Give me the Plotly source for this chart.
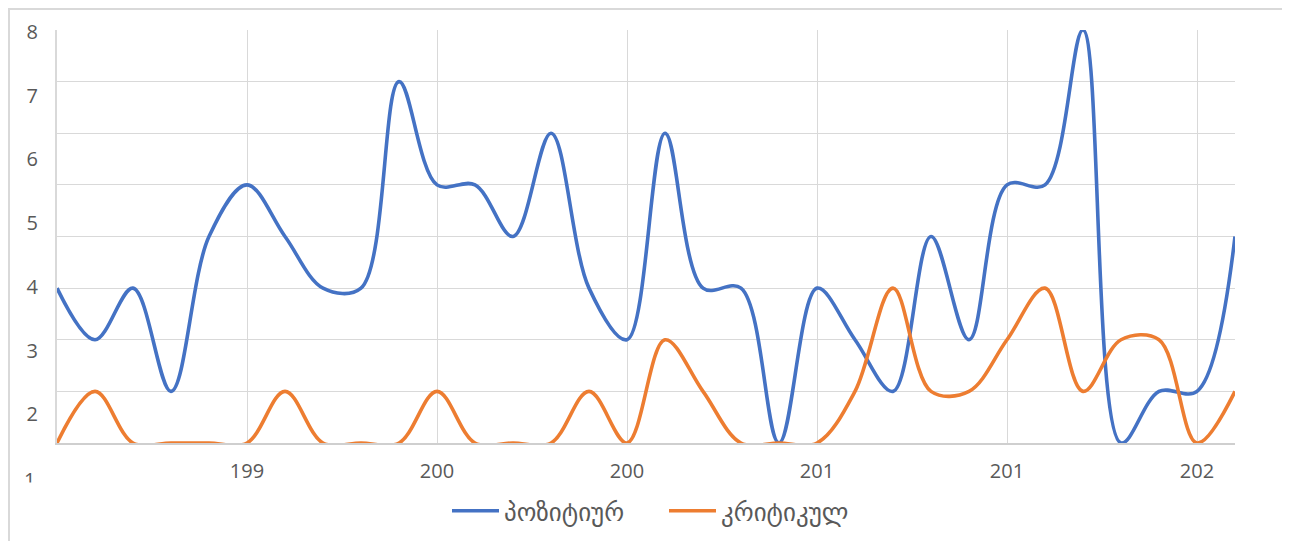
import plotly.graph_objects as go

# ---- data ----
years = list(range(1993, 2025))
positive = [3, 2, 3, 1, 4, 5, 4, 3, 3, 7, 5, 5, 4, 6, 3, 2,
            6, 3, 3, 0, 3, 2, 1, 4, 2, 5, 5, 8, 0, 1, 1, 4]
critical = [0, 1, 0, 0, 0, 0, 1, 0, 0, 0, 1, 0, 0, 0, 1, 0,
            2, 1, 0, 0, 0, 1, 3, 1, 1, 2, 3, 1, 2, 2, 0, 1]
series_names = ["პოზიტიურ", "კრიტიკულ"]
x_tick_years = [1998, 2003, 2008, 2013, 2018, 2023]
x_tick_labels = ["199", "200", "200", "201", "201", "202"]
y_tick_vals = [2, 3, 4, 5, 6, 7, 8]
y_tick_labels = ["2", "3", "4", "5", "6", "7", "8"]

BLUE = "#4472C4"
ORANGE = "#ED7D31"
GRID = "#D9D9D9"
TXT = "#595959"
FONT = "Open Sans, DejaVu Sans, sans-serif"

fig = go.Figure()
fig.add_trace(go.Scatter(x=years, y=positive, name=series_names[0], mode="lines",
                         line=dict(color=BLUE, width=3.6, shape="spline", smoothing=1)))
fig.add_trace(go.Scatter(x=years, y=critical, name=series_names[1], mode="lines",
                         line=dict(color=ORANGE, width=3.6, shape="spline", smoothing=1)))
# empty trace so the label axis is created
fig.add_trace(go.Scatter(x=[], y=[], yaxis="y2", showlegend=False, hoverinfo="skip"))

# page has an 8px body margin: figure origin sits at (8, 8) on the page
OFF = 8
PAGE_W, PAGE_H = 1290, 541
W, H = PAGE_W - OFF, PAGE_H - OFF
PL, PR, PT, PB = 57, 1235, 30, 443   # plot area in page pixels
L, T = PL - OFF, PT - OFF
R = W - (PR - OFF)
B = H - (PB - OFF)
pw = PR - PL
ph = PB - PT

def px_x(p):
    return (p - PL) / pw

def px_y(p):
    return (PB - p) / ph

fig.update_layout(
    width=W, height=H,
    margin=dict(l=L, r=R, t=T, b=B, autoexpand=False),
    paper_bgcolor="white", plot_bgcolor="white",
    font=dict(family=FONT, color=TXT, size=20),
    xaxis=dict(range=[years[0], years[-1]], tickvals=x_tick_years, ticktext=x_tick_labels,
               showgrid=True, gridcolor=GRID, gridwidth=1.3, zeroline=False,
               showline=True, linecolor="#CFCFCF", linewidth=1.6, ticks="",
               tickfont=dict(size=20, color=TXT), ticklabelstandoff=9, automargin=False),
    yaxis=dict(range=[0, 8], dtick=1, tick0=0, showgrid=True, gridcolor=GRID, gridwidth=1.3,
               showticklabels=False, zeroline=False, showline=True, linecolor=GRID,
               linewidth=1.6, ticks="", automargin=False),
    yaxis2=dict(overlaying="y", side="left", range=[1.549, 8.031], tickvals=y_tick_vals,
                ticktext=y_tick_labels, showgrid=False, zeroline=False, showline=False,
                ticks="", tickfont=dict(size=20, color=TXT), ticklabelstandoff=18,
                automargin=False),
    legend=dict(orientation="h", x=0.5 + 18 / pw, xanchor="center", y=px_y(511),
                yanchor="middle", font=dict(size=25, color=TXT), itemwidth=47,
                entrywidth=155, bgcolor="rgba(0,0,0,0)"),
    shapes=[dict(type="rect", xref="paper", yref="paper",
                 x0=px_x(9), x1=px_x(1283.5), y0=px_y(560), y1=px_y(9),
                 line=dict(color=GRID, width=2), fillcolor="rgba(0,0,0,0)", layer="above")],
    annotations=[
        dict(text="1", xref="paper", yref="paper", x=px_x(29), y=px_y(479),
             xanchor="center", yanchor="middle", showarrow=False,
             font=dict(size=20, color=TXT)),
        dict(text=" ", xref="paper", yref="paper", x=px_x(29), y=px_y(492),
             xanchor="center", yanchor="middle", showarrow=False,
             width=30, height=16, bgcolor="white"),
    ],
)

fig.write_html("out.html")
